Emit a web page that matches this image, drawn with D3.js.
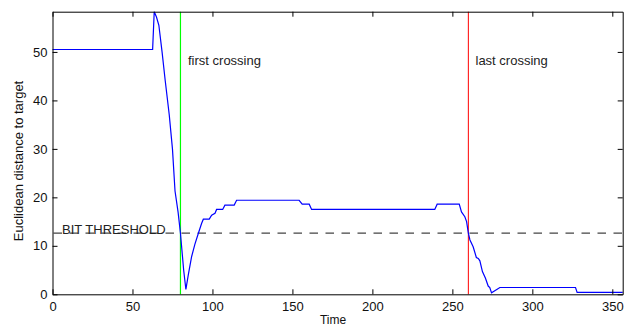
<!DOCTYPE html>
<html>
<head>
<meta charset="utf-8">
<script src="https://cdn.jsdelivr.net/npm/d3@7"></script>
<style>
  body { margin: 0; background: #fff; }
  svg { display: block; font-family: "Liberation Sans", Arial, sans-serif; }
</style>
</head>
<body>
<svg id="chart"></svg>
<script>
// distance-to-target trace
const time = [0, 62.6, 63.6, 65, 66.5, 68.5, 70.5, 73, 75, 76.6, 78.5, 80, 82, 83.4, 84.9, 87, 89, 91.2, 93.2,
  94.3, 98, 99.5, 101.6, 102.6, 104.3, 106.4, 107.8, 113.6, 115.1, 154.2, 156.1, 160.5, 162, 239, 240.5,
  254.3, 255.7, 257.8, 258.9, 260, 261, 263, 265, 266.2, 267.2, 268.8, 270.7, 272.4, 273.4, 274.5, 279.7,
  327, 328, 356.5];
const distance = [50.5, 50.5, 58.3, 57.2, 55.5, 50, 44, 37, 30, 21.3, 17, 12.6, 5, 1.0, 4.0, 7.8, 10.3, 12.6, 14.6,
  15.5, 15.5, 16.3, 16.7, 17.5, 17.5, 17.5, 18.4, 18.4, 19.4, 19.4, 18.6, 18.6, 17.5, 17.5, 18.6,
  18.6, 17.0, 16.0, 15.0, 12.6, 11.2, 9.8, 7.6, 7.4, 6.9, 4.7, 3.3, 1.7, 1.4, 0.3, 1.4,
  1.4, 0.4, 0.4];
const threshold = 12.6;
const firstCrossing = 80;
const lastCrossing = 260;
const xTicks = [0, 50, 100, 150, 200, 250, 300, 350];
const yTicks = [0, 10, 20, 30, 40, 50];

const width = 631;
const height = 327;
const plotLeft = 52.5, plotRight = 622.7, plotTop = 11.7, plotBottom = 294.3;
const fontSize = 13;

const svg = d3.select('#chart')
    .attr('width', width)
    .attr('height', height);

const x = d3.scaleLinear().domain([0, 356.5]).range([plotLeft, plotRight]);
const y = d3.scaleLinear().domain([0, 58.3]).range([plotBottom, plotTop]);

const points = time.map((t, i) => [t, distance[i]]);
const line = d3.line()
    .x((d) => x(d[0]))
    .y((d) => y(d[1]));

// threshold
svg.append('line')
    .attr('x1', x(0) + 1).attr('x2', plotRight)
    .attr('y1', y(threshold)).attr('y2', y(threshold))
    .attr('stroke', '#444')
    .attr('stroke-width', 1.2)
    .attr('stroke-dasharray', '8.5,7.5');

svg.append('text')
    .attr('x', 62).attr('y', y(threshold) + 0.5)
    .attr('font-size', fontSize).attr('fill', '#222')
    .text('BIT THRESHOLD');

// crossing markers
svg.append('line')
    .attr('x1', x(firstCrossing)).attr('x2', x(firstCrossing))
    .attr('y1', plotTop).attr('y2', plotBottom)
    .attr('stroke', '#00ff00').attr('stroke-width', 1.2);
svg.append('line')
    .attr('x1', x(lastCrossing)).attr('x2', x(lastCrossing))
    .attr('y1', plotTop).attr('y2', plotBottom)
    .attr('stroke', '#ff0000').attr('stroke-width', 1);

svg.append('text')
    .attr('x', 188).attr('y', 65)
    .attr('font-size', fontSize).attr('fill', '#222')
    .text('first crossing');
svg.append('text')
    .attr('x', 475.5).attr('y', 65)
    .attr('font-size', fontSize).attr('fill', '#222')
    .text('last crossing');

svg.append('path')
    .datum(points)
    .attr('fill', 'none')
    .attr('stroke', '#0000ff')
    .attr('stroke-width', 1.2)
    .attr('d', line);

// axes, box with inward ticks
const styleAxis = (g) => {
  g.selectAll('.domain').attr('stroke', '#000');
  g.selectAll('.tick line').attr('stroke', '#000');
  g.selectAll('.tick text').attr('fill', '#111').attr('font-size', fontSize)
      .attr('font-family', '"Liberation Sans", Arial, sans-serif');
};

svg.append('g')
    .attr('transform', `translate(0,${plotBottom})`)
    .call(d3.axisBottom(x).tickValues(xTicks).tickSizeInner(-5).tickSizeOuter(0).tickPadding(7))
    .call(styleAxis);
svg.append('g')
    .attr('transform', `translate(0,${plotTop})`)
    .call(d3.axisTop(x).tickValues(xTicks).tickSizeInner(-5).tickSizeOuter(0).tickFormat(''))
    .call(styleAxis);
svg.append('g')
    .attr('transform', `translate(${plotLeft},0)`)
    .call(d3.axisLeft(y).tickValues(yTicks).tickSizeInner(-5).tickSizeOuter(0).tickPadding(5))
    .call(styleAxis);
svg.append('g')
    .attr('transform', `translate(${plotRight},0)`)
    .call(d3.axisRight(y).tickValues(yTicks).tickSizeInner(-5).tickSizeOuter(0).tickFormat(''))
    .call(styleAxis);

svg.append('text')
    .attr('x', 333).attr('y', 324)
    .attr('text-anchor', 'middle')
    .attr('font-size', 12).attr('fill', '#111')
    .text('Time');
svg.append('text')
    .attr('transform', `translate(23,${(plotTop + plotBottom) / 2 + 8}) rotate(-90)`)
    .attr('text-anchor', 'middle')
    .attr('font-size', fontSize).attr('fill', '#111')
    .text('Euclidean distance to target');
</script>
</body>
</html>
